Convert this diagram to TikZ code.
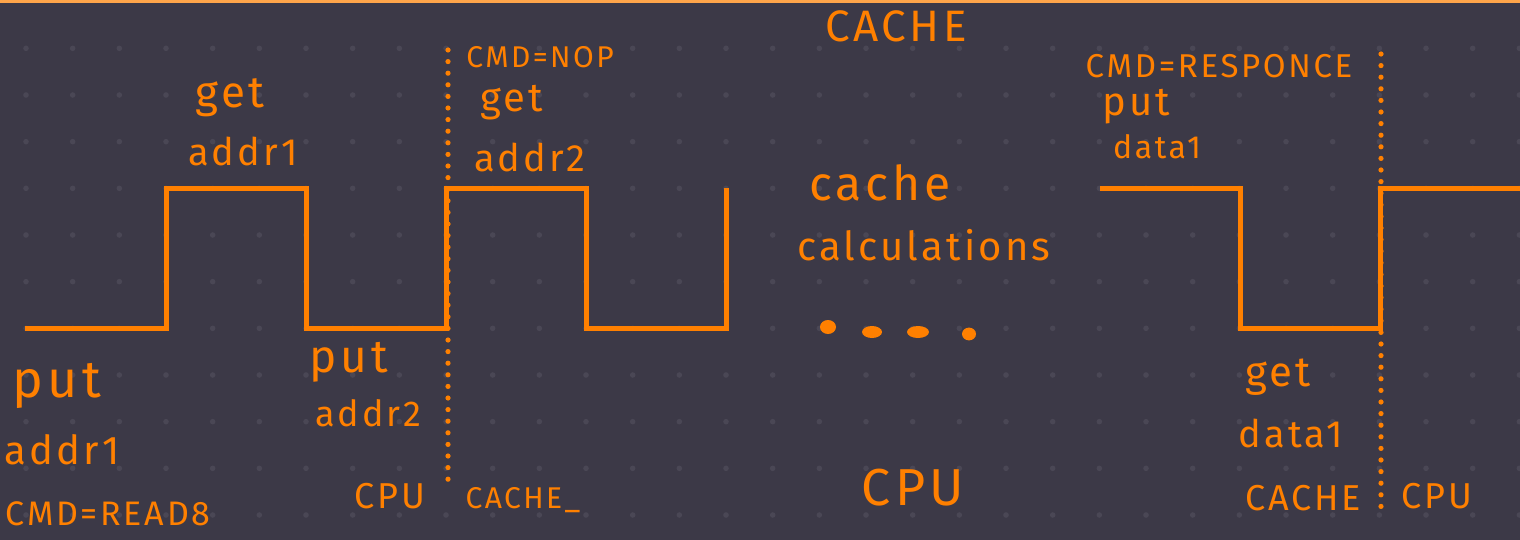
\documentclass[tikz,border=0pt]{standalone}
\usepackage{fontspec}
\newfontfamily\handfont[LetterSpace=8]{Fira Sans}
\definecolor{bg}{HTML}{3C3947}
\definecolor{org}{HTML}{FF8000}
\definecolor{gridc}{HTML}{4A4755}
\definecolor{topln}{HTML}{FFA54A}
\begin{document}
\begin{tikzpicture}[x=0.5pt,y=-0.5pt,
  wave/.style={draw=org,line width=2.5pt,line join=miter},
  dotline/.style={draw=org,line width=2.6pt,line cap=round,dash pattern=on 0pt off 5.8pt},
  lbl/.style={text=org,inner sep=0pt},
  sz/.style={font=\handfont\fontsize{#1}{#1}\selectfont},
]
\fill[bg] (0,0) rectangle (1520,540);
\useasboundingbox (0,0) rectangle (1520,540);
\foreach \i in {0,...,32}{\foreach \j in {0,...,10}{\fill[gridc] ({26+46.667*\i},{48.33+46.667*\j}) circle (1.4pt);}}
\fill[topln] (0,0) rectangle (1520,3);
% waveforms
\draw[wave] (25,328) -- (166,328) -- (166,188) -- (306,188) -- (306,328) -- (446,328) -- (446,188) -- (586,188) -- (586,328) -- (726,328) -- (726,188);
\draw[wave] (1100,188) -- (1240,188) -- (1240,328) -- (1380,328) -- (1380,188) -- (1520,188);
% dotted separators
\draw[dotline] (448,50) -- (448,490);
\draw[dotline] (1381,54) -- (1381,515);
% dots
\fill[org] (828,327) ellipse [x radius=4pt, y radius=3.5pt];
\fill[org] (872,332) ellipse [x radius=5pt, y radius=3pt];
\fill[org] (918,332) ellipse [x radius=5.5pt, y radius=3pt];
\fill[org] (969,334) ellipse [x radius=3.5pt, y radius=3.2pt];
% labels
\node[lbl,sz=22] (getA) at (230,98) {get};
\node[lbl,sz=19] (addrA) at (243,151) {addr1};
\node[lbl,sz=15] (cmdNop) at (540,57) {CMD=NOP};
\node[lbl,sz=20] (getB) at (512,103) {get};
\node[lbl,sz=19] (addrB) at (530,157) {addr2};
\node[lbl,sz=22] (cacheTop) at (896,26) {CACHE};
\node[lbl,sz=24] (cacheW) at (880,183) {cache};
\node[lbl,sz=20] (calc) at (924,245) {calculations};
\node[lbl,sz=16.5] (resp) at (1219,66) {CMD=RESPONCE};
\node[lbl,sz=20] (putC) at (1136,107) {put};
\node[lbl,sz=16] (dataC) at (1157,147) {data1};
\node[lbl,sz=26] (putL) at (57,386) {put};
\node[lbl,sz=20] (addrL) at (62,450) {addr1};
\node[lbl,sz=17] (readL) at (108,514) {CMD=READ8};
\node[lbl,sz=23] (putM) at (349,362) {put};
\node[lbl,sz=18] (addrM) at (368,413) {addr2};
\node[lbl,sz=18] (cpuM) at (390,496) {CPU};
\node[lbl,sz=15] (cacheM) at (523,500) {CACHE\_};
\node[lbl,sz=26] (cpuBig) at (913,488) {CPU};
\node[lbl,sz=21] (getR) at (1278,377) {get};
\node[lbl,sz=19] (dataR) at (1291,433) {data1};
\node[lbl,sz=18] (cacheR) at (1303,498) {CACHE};
\node[lbl,sz=18] (cpuR) at (1437,496) {CPU};
\end{tikzpicture}
\end{document}
